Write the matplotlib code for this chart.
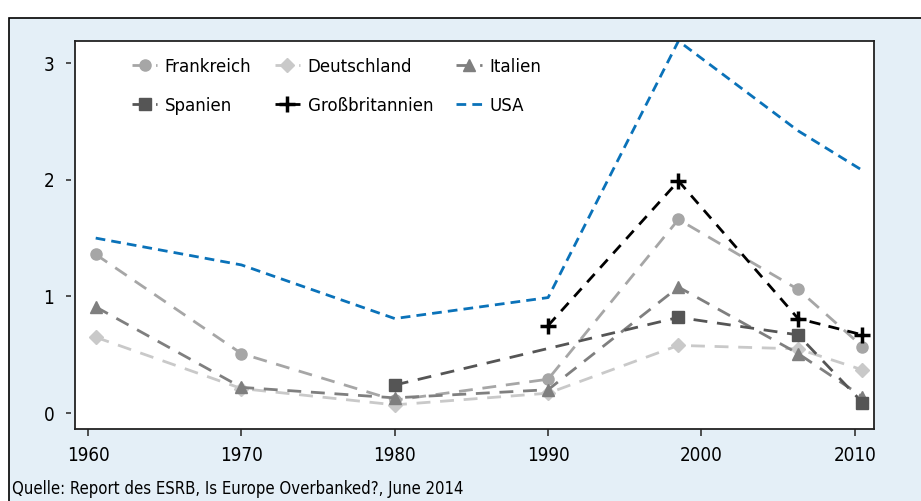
import numpy as np
import matplotlib.pyplot as plt
from matplotlib.patches import Rectangle

# data
years = [1960.5, 1970, 1980, 1990, 1998.5, 2006.3, 2010.5]
frankreich = [1.36, 0.51, 0.11, 0.29, 1.66, 1.06, 0.57]
deutschland = [0.65, 0.21, 0.07, 0.17, 0.58, 0.55, 0.37]
italien = [0.91, 0.22, 0.13, 0.20, 1.08, 0.51, 0.14]
spanien = [np.nan, np.nan, 0.24, np.nan, 0.82, 0.67, 0.09]
gb = [np.nan, np.nan, np.nan, 0.75, 1.99, 0.81, 0.67]
usa = [1.50, 1.27, 0.81, 0.99, 3.19, 2.42, 2.08]

xticks = [1960, 1970, 1980, 1990, 2000, 2010]
yticks = [0, 1, 2, 3]
source = 'Quelle: Report des ESRB, Is Europe Overbanked?, June 2014'

plt.rcParams['font.family'] = ['DejaVu Sans']
plt.rcParams['font.stretch'] = 'condensed'

fig = plt.figure(figsize=(9.21, 5.01), dpi=100, facecolor='white')
W, H = 921, 501

# light blue panel with black frame (right/bottom edges run off the image)
fig.patches.append(Rectangle((9 / W, -0.1), 1.2, (501 - 18) / H + 0.1,
                             transform=fig.transFigure, facecolor='#e4eff7',
                             edgecolor='black', linewidth=1.2, zorder=-5))

ax = fig.add_axes([75 / W, (501 - 429) / H, (874 - 75) / W, (429 - 41) / H])
ax.set_facecolor('white')

def seg(ys):
    # drop missing points so the line joins the remaining ones
    x = [a for a, b in zip(years, ys) if not np.isnan(b)]
    y = [b for b in ys if not np.isnan(b)]
    return x, y

lw = 2.0
dash = (0, (5, 3.5))
h_fr, = ax.plot(*seg(frankreich), color='#a6a6a6', ls=dash, lw=lw,
                marker='o', ms=8, label='Frankreich')
h_de, = ax.plot(*seg(deutschland), color='#c9c9c9', ls=dash, lw=lw,
                marker='D', ms=7, label='Deutschland')
h_it, = ax.plot(*seg(italien), color='#7f7f7f', ls=dash, lw=lw,
                marker='^', ms=8, label='Italien')
h_es, = ax.plot(*seg(spanien), color='#555555', ls=dash, lw=lw,
                marker='s', ms=8.5, label='Spanien')
h_gb, = ax.plot(*seg(gb), color='black', ls=(0, (4, 3)), lw=lw,
                marker='+', ms=11, mew=2.5, label='Großbritannien')
h_us, = ax.plot(*seg(usa), color='#0a72b9', ls=(0, (3.5, 2.2)), lw=lw,
                label='USA')

ax.set_xlim(1959.15, 2011.25)
ax.set_ylim(-0.137, 3.19)
ax.set_xticks(xticks)
ax.set_yticks(yticks)
ax.tick_params(axis='x', labelsize=13.5, color='#333333', length=5,
               width=1.2, direction='out', pad=7)
# y ticks in the original sit a little apart from the axis line
ax.tick_params(axis='y', labelsize=13.5, length=0, pad=15)
ax.hlines(yticks, -9 / 799, -4 / 799, transform=ax.get_yaxis_transform(),
          color='#333333', lw=1.2, clip_on=False)
for s in ax.spines.values():
    s.set_color('#222222')
    s.set_linewidth(1.3)

handles = [h_fr, h_es, h_de, h_gb, h_it, h_us]
ax.legend(handles=handles, labels=[h.get_label() for h in handles], ncol=3,
          loc='upper left', bbox_to_anchor=(0.05, 1.0), frameon=False,
          fontsize=13.3, handlelength=1.4, columnspacing=1.25,
          handletextpad=0.4, labelspacing=1.15)

fig.text(12 / W, 1 - 489 / H, source, fontsize=12, va='center', ha='left')

fig.savefig('out.png', dpi=100)
